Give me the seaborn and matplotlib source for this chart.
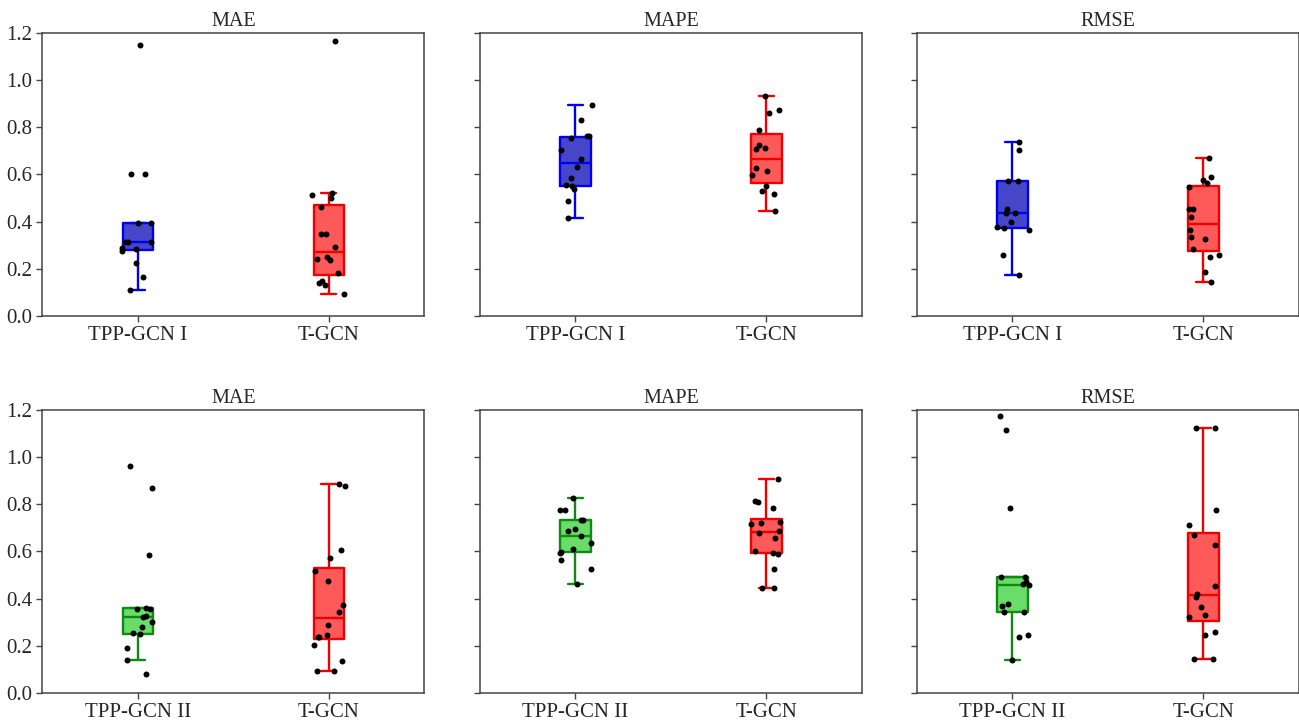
import numpy as np
import pandas as pd
import matplotlib
matplotlib.use("Agg")
import matplotlib.pyplot as plt
import seaborn as sns

# values (one list per box)
tpp1_mae = [1.149, 0.600, 0.600, 0.393, 0.393, 0.314, 0.314, 0.314, 0.286, 0.285, 0.277, 0.226, 0.165, 0.110]
tgcn1_mae = [1.166, 0.519, 0.511, 0.500, 0.460, 0.348, 0.348, 0.293, 0.250, 0.240, 0.236, 0.181, 0.150, 0.139, 0.132, 0.095]
tpp1_mape = [0.894, 0.832, 0.764, 0.761, 0.755, 0.702, 0.665, 0.629, 0.583, 0.554, 0.552, 0.537, 0.489, 0.414]
tgcn1_mape = [0.931, 0.874, 0.861, 0.786, 0.724, 0.710, 0.707, 0.627, 0.612, 0.597, 0.550, 0.528, 0.515, 0.443]
tpp1_rmse = [0.737, 0.704, 0.570, 0.570, 0.454, 0.438, 0.436, 0.400, 0.378, 0.371, 0.364, 0.259, 0.173]
tgcn1_rmse = [0.668, 0.588, 0.575, 0.565, 0.545, 0.453, 0.453, 0.419, 0.364, 0.334, 0.325, 0.282, 0.259, 0.248, 0.187, 0.144]

tpp2_mae = [0.961, 0.870, 0.583, 0.361, 0.355, 0.355, 0.328, 0.323, 0.300, 0.280, 0.254, 0.249, 0.189, 0.139, 0.080]
tgcn2_mae = [0.886, 0.877, 0.606, 0.570, 0.517, 0.475, 0.372, 0.345, 0.289, 0.246, 0.237, 0.235, 0.203, 0.137, 0.094, 0.094]
tpp2_mape = [0.825, 0.776, 0.776, 0.731, 0.731, 0.693, 0.687, 0.665, 0.635, 0.608, 0.599, 0.593, 0.563, 0.524, 0.462]
tgcn2_mape = [0.906, 0.815, 0.807, 0.782, 0.723, 0.720, 0.715, 0.687, 0.676, 0.658, 0.600, 0.594, 0.589, 0.524, 0.446, 0.446]
tpp2_rmse = [1.172, 1.113, 0.785, 0.493, 0.490, 0.469, 0.460, 0.459, 0.376, 0.369, 0.345, 0.342, 0.246, 0.235, 0.139]
tgcn2_rmse = [1.124, 1.121, 0.776, 0.710, 0.668, 0.627, 0.454, 0.420, 0.406, 0.362, 0.331, 0.323, 0.258, 0.244, 0.144, 0.144]

metrics = ["MAE", "MAPE", "RMSE"]
yticks = [0.0, 0.2, 0.4, 0.6, 0.8, 1.0, 1.2]

edge_color = {"TPP-GCN I": "#0000ee", "TPP-GCN II": "#118a11", "T-GCN": "#ee0000"}
fill_color = {"TPP-GCN I": "#4646c8", "TPP-GCN II": "#6adc6a", "T-GCN": "#ff5a5a"}

sns.set_style("ticks")
plt.rcParams["font.family"] = ["Liberation Serif", "DejaVu Serif"]
np.random.seed(3)

fig = plt.figure(figsize=(12.99, 7.22), dpi=100)

lefts = [0.0326, 0.3695, 0.7059]
bottoms = [0.5623, 0.0402]
w, h = 0.294, 0.3925

rows = [
    ("TPP-GCN I", [tpp1_mae, tpp1_mape, tpp1_rmse], [tgcn1_mae, tgcn1_mape, tgcn1_rmse]),
    ("TPP-GCN II", [tpp2_mae, tpp2_mape, tpp2_rmse], [tgcn2_mae, tgcn2_mape, tgcn2_rmse]),
]

for r, (name, ours, base) in enumerate(rows):
    for c, metric in enumerate(metrics):
        ax = fig.add_axes([lefts[c], bottoms[r], w, h])
        df = pd.DataFrame({
            "model": [name] * len(ours[c]) + ["T-GCN"] * len(base[c]),
            "value": list(ours[c]) + list(base[c]),
        })
        order = [name, "T-GCN"]

        # filled boxes first, then the coloured outlines on top
        sns.boxplot(data=df, x="model", y="value", hue="model", order=order, hue_order=order,
                    palette=[fill_color[m] for m in order], saturation=1, width=0.16,
                    linewidth=0, showfliers=False, legend=False, ax=ax)
        sns.boxplot(data=df, x="model", y="value", hue="model", order=order, hue_order=order,
                    palette=[edge_color[m] for m in order], saturation=1, width=0.16,
                    fill=False, linewidth=1.7, showfliers=False, legend=False, ax=ax)
        sns.stripplot(data=df, x="model", y="value", order=order, color="black",
                      size=4.3, jitter=0.09, linewidth=0, zorder=3, ax=ax)

        ax.set_xlim(-0.5, 1.5)
        ax.set_ylim(0, 1.2)
        ax.set_yticks(yticks)
        ax.set_yticklabels([f"{t:.1f}" for t in yticks])
        ax.set_title(metric, fontsize=14.5, pad=5)
        ax.set_xlabel("")
        ax.set_ylabel("")
        ax.tick_params(axis="x", labelsize=15, length=4, width=1, color="#444444", pad=3)
        ax.tick_params(axis="y", labelsize=15, length=4, width=1, color="#444444", pad=3)
        if c > 0:
            ax.tick_params(axis="y", labelleft=False)
        for s in ax.spines.values():
            s.set_visible(True)
            s.set_color("#444444")
            s.set_linewidth(1.1)

fig.savefig("out.png", dpi=100)
